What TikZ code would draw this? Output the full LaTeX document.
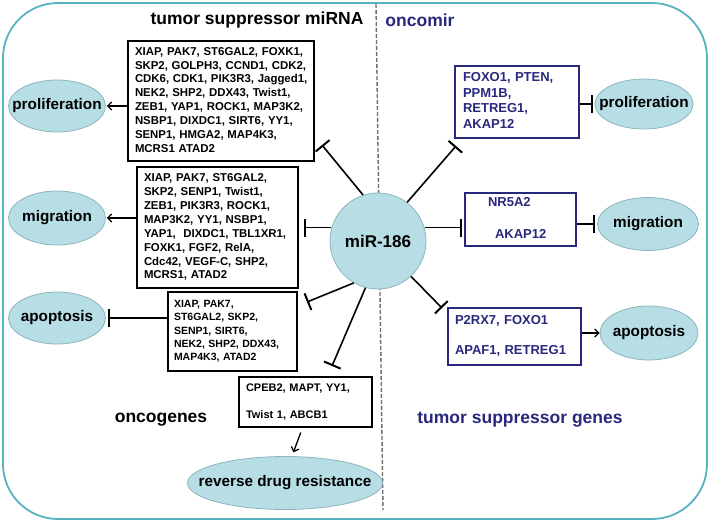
\documentclass[tikz,border=0pt]{standalone}
\usepackage{fontspec}
\setmainfont{Liberation Sans}
\usetikzlibrary{arrows.meta,shapes.geometric}
\definecolor{navy}{RGB}{40,40,125}
\definecolor{efill}{RGB}{183,222,228}
\definecolor{eline}{RGB}{140,180,190}
\definecolor{framec}{RGB}{85,178,192}
\definecolor{dashc}{RGB}{110,110,110}
\newcommand{\genelines}[1]{\begin{tabular}{@{}l@{}}#1\end{tabular}}
\newcommand{\ovaltext}[1]{\makebox[0pt]{#1}}
\tikzset{
 oval/.style={ellipse, draw=eline, fill=efill, line width=0.8pt, inner sep=0pt, font=\fontsize{15.3}{17}\selectfont\bfseries},
 genebox/.style={draw=black, line width=1.6pt, inner xsep=7pt, inner ysep=0pt, align=left, font=\fontsize{11.4}{13.9}\selectfont\bfseries},
 bluebox/.style={draw=navy, text=navy, line width=1.5pt, inner xsep=8pt, inner ysep=0pt, align=left, font=\fontsize{13}{15.5}\selectfont\bfseries},
 inh/.style={line width=1.6pt, -{Bar[width=18pt,line width=2pt]}},
 act/.style={line width=1.3pt, -{Straight Barb[length=4pt,width=8pt]}},
 header/.style={font=\fontsize{17.5}{20}\selectfont\bfseries},
}
\begin{document}
\begin{tikzpicture}[x=1pt,y=-1pt]
\useasboundingbox (0,0) rectangle (710,523);
% frame and divider
\draw[framec, line width=1.8pt, rounded corners=55pt] (3,3) rectangle (707,519);
\draw[dashc, line width=1.4pt, dash pattern=on 4pt off 2pt] (376,4) -- (383,510);
% central node
\node[circle, draw=eline, fill=efill, line width=0.8pt, minimum size=96pt, inner sep=0pt, font=\fontsize{17}{20}\selectfont\bfseries] (mir) at (378,241) {miR-186};
% headers
\node[header] (h1) at (257,20) {tumor suppressor miRNA};
\node[header, text=navy] (h2) at (420,20) {oncomir};
\node[header] (h3) at (161,420) {oncogenes};
\node[header, text=navy] (h4) at (520,420) {tumor suppressor genes};
% left side
\node[oval, minimum width=97pt, minimum height=52pt] (pl) at (57,106) {\ovaltext{proliferation}};
\node[oval, minimum width=97pt, minimum height=54pt] (ml) at (57,218) {\ovaltext{migration}};
\node[oval, minimum width=97pt, minimum height=52pt] (al) at (57,318) {\ovaltext{apoptosis}};
\node[oval, minimum width=195pt, minimum height=53pt] (rdr) at (285,483) {\ovaltext{reverse drug resistance}};
\node[genebox, text width=172pt, minimum height=120pt] (b1) at (221,101) {\genelines{XIAP, PAK7, ST6GAL2, FOXK1,\\ SKP2, GOLPH3, CCND1, CDK2,\\ CDK6, CDK1, PIK3R3, Jagged1,\\ NEK2, SHP2, DDX43, Twist1,\\ ZEB1, YAP1, ROCK1, MAP3K2,\\ NSBP1, DIXDC1, SIRT6, YY1,\\ SENP1, HMGA2, MAP4K3,\\ MCRS1 ATAD2}};
\node[genebox, text width=147pt, minimum height=121pt] (b2) at (217.5,227.5) {\genelines{XIAP, PAK7, ST6GAL2,\\ SKP2, SENP1, Twist1,\\ ZEB1, PIK3R3, ROCK1,\\ MAP3K2, YY1, NSBP1,\\ YAP1,\ \ DIXDC1, TBL1XR1,\\ FOXK1, FGF2, RelA,\\ Cdc42, VEGF-C, SHP2,\\ MCRS1, ATAD2}};
\node[genebox, text width=117pt, inner xsep=6pt, minimum height=79pt, font=\fontsize{10.5}{13.3}\selectfont\bfseries] (b3) at (232.5,331.5) {\genelines{XIAP, PAK7,\\ ST6GAL2, SKP2,\\ SENP1, SIRT6,\\ NEK2, SHP2, DDX43,\\ MAP4K3, ATAD2}};
\node[genebox, text width=119pt, minimum height=50pt, font=\fontsize{11}{13.5}\selectfont\bfseries] (b4) at (305.5,402) {\genelines{CPEB2, MAPT, YY1,\\[13.5pt] Twist 1, ABCB1}};
% right side
\node[oval, minimum width=98pt, minimum height=50pt] (rp) at (644,104) {\ovaltext{proliferation}};
\node[oval, minimum width=101pt, minimum height=53pt] (rm) at (648,224) {\ovaltext{migration}};
\node[oval, minimum width=98pt, minimum height=54pt] (ra) at (649,333) {\ovaltext{apoptosis}};
\node[bluebox, text width=108pt, minimum height=72pt] (r1) at (517,102) {\genelines{FOXO1, PTEN,\\ PPM1B,\\ RETREG1,\\ AKAP12}};
\node[bluebox, text width=95pt, minimum height=53pt] (r2) at (520.5,219.5) {\genelines{\hspace{15pt}NR5A2\\[16.5pt] \hspace{22pt}AKAP12}};
\node[bluebox, text width=119pt, inner xsep=7pt, minimum height=57pt] (r3) at (514.5,336.5) {\genelines{P2RX7, FOXO1\\[14.5pt] APAF1, RETREG1}};
% free ends of inhibition lines
\coordinate (e1) at (322,145);
\coordinate (e2) at (456,146);
\coordinate (e3) at (307,302);
\coordinate (e4) at (332,366);
\coordinate (e5) at (442,308);
% connectors from miR-186
\draw[inh] (mir.108) -- (e1);
\draw[inh] (mir.53) -- (e2);
\draw[inh, shorten >=5pt] (mir.164) -- (b2.east |- mir.164);
\draw[inh, shorten >=2pt] (mir.16) -- (r2.west |- mir.16);
\draw[inh] (mir.240) -- (e3);
\draw[inh] (mir.255) -- (e4);
\draw[inh] (mir.313) -- (e5);
% box to phenotype
\draw[act, shorten >=1pt] (b1.west |- pl) -- (pl.east);
\draw[act, shorten >=1pt] (b2.west |- ml) -- (ml.east);
\draw[inh, shorten >=2pt] (b3.west |- al) -- (al.east);
\draw[act, shorten <=5pt, shorten >=4pt] ([xshift=-3pt]b4.south) -- ([xshift=7pt]rdr.north);
\draw[inh, shorten >=2pt] (r1.east |- rp) -- (rp.west);
\draw[inh, shorten >=2pt] (r2.east |- rm) -- (rm.west);
\draw[act] (r3.east |- ra) -- (ra.west);
\end{tikzpicture}
\end{document}
